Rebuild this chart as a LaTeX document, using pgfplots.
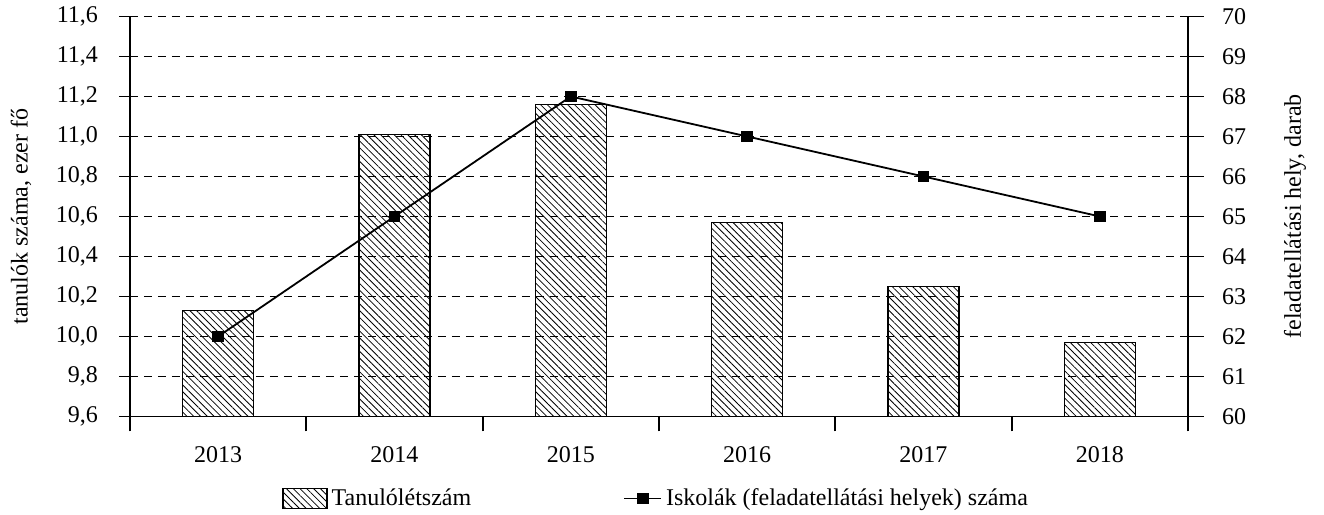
\documentclass[border=0pt]{standalone}
\usepackage{fontspec}
\setmainfont{Liberation Serif}
\usepackage{pgfplots}
\pgfplotsset{compat=1.18}
\usetikzlibrary{patterns.meta}
\pgfplotsset{
  boxlegend/.style={legend image code/.code={\draw[##1] (0pt,-5pt) rectangle (22pt,5pt);}},
  linelegend/.style={legend image code/.code={\draw[##1, mark=none] (0pt,0pt) -- (18.5pt,0pt);
    \draw[##1] plot coordinates {(9.25pt,0pt)};}},
}
\begin{document}
\begin{tikzpicture}[font=\fontsize{12}{14}\selectfont]
\begin{axis}[
  scale only axis, width=529pt, height=200pt,
  xmin=-0.5, xmax=5.5, ymin=9.6, ymax=11.6,
  axis x line*=bottom, axis y line*=left,
  axis line style={line width=0.9pt},
  tick align=outside,
  tick label style={font=\fontsize{12}{14}\selectfont},
  xtick={0,1,2,3,4,5},
  xticklabels={2013,2014,2015,2016,2017,2018},
  xticklabel shift=6pt,
  major x tick style={draw=none},
  minor xtick={-0.5,0.5,1.5,2.5,3.5,4.5,5.5},
  minor tick length=7.5pt, major tick length=5.5pt,
  every tick/.style={black, line width=0.9pt},
  ytick={9.6,9.8,10.0,10.2,10.4,10.6,10.8,11.0,11.2,11.4,11.6},
  yticklabel shift=7pt,
  ymajorgrids,
  major grid style={black, line width=0.5pt, dash pattern=on 4pt off 3pt},
  y tick label style={/pgf/number format/.cd, fixed, fixed zerofill, precision=1, use comma},
  /pgf/number format/assume math mode=true,
  ylabel={tanulók száma, ezer fő},
  ylabel style={at={([xshift=-54.5pt]axis description cs:0,0.5)}, anchor=center},
  legend style={at={(0.1437,-0.205)}, anchor=west, draw=none, inner sep=0pt, legend columns=2,
    /tikz/every even column/.append style={column sep=74pt},
    font=\fontsize{12}{14}\selectfont},
  legend cell align=left,
]
\coordinate (bl) at (rel axis cs:0,0);
\addplot[ybar, bar width=35.5pt, draw=black, line width=0.6pt,
  pattern={Lines[angle=-45,distance=2.4pt,line width=0.4pt]}, boxlegend]
  coordinates {(0,10.13) (1,11.01) (2,11.16) (3,10.57) (4,10.25) (5,9.97)};
\addlegendentry{Tanulólétszám}
\addlegendimage{black, line width=0.9pt, mark=square*, mark size=2.5pt, linelegend}
\addlegendentry{Iskolák (feladatellátási helyek) száma}
\end{axis}
\begin{axis}[
  scale only axis, width=529pt, height=200pt,
  xmin=-0.5, xmax=5.5, ymin=60, ymax=70,
  axis y line*=right, axis x line=none,
  axis line style={line width=0.9pt},
  tick align=outside, major tick length=8pt,
  tick label style={font=\fontsize{12}{14}\selectfont},
  yticklabel shift=5.5pt,
  every tick/.style={black, line width=0.9pt},
  ytick={60,61,62,63,64,65,66,67,68,69,70},
  /pgf/number format/assume math mode=true,
  ylabel={feladatellátási hely, darab},
  ylabel style={at={([xshift=53.5pt]axis description cs:1,0.5)}, anchor=center},
]
\addplot[black, line width=0.9pt, mark=square*, mark size=2.5pt]
  coordinates {(0,62) (1,65) (2,68) (3,67) (4,66) (5,65)};
\end{axis}
\path (bl) ++(-65pt,-49pt) rectangle ++(662pt,256.5pt);
\end{tikzpicture}
\end{document}
